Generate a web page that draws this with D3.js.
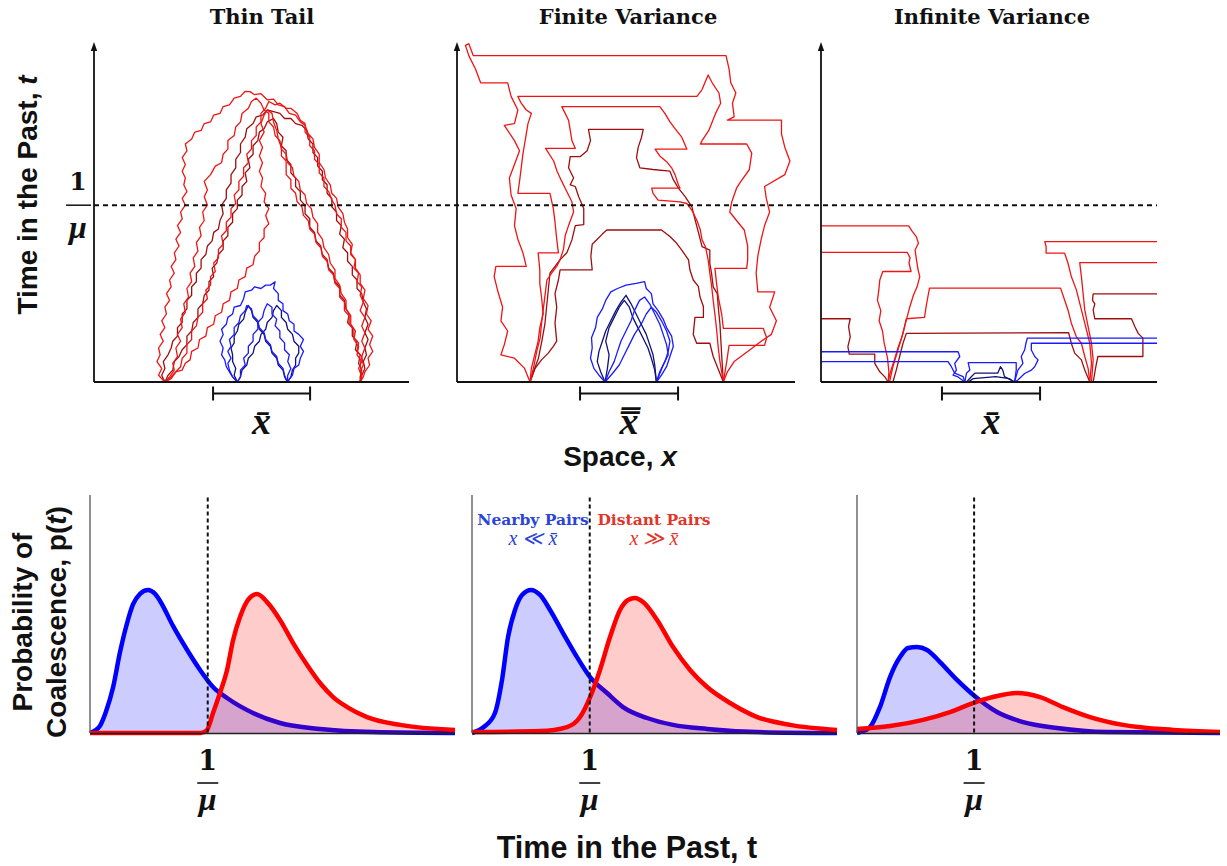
<!DOCTYPE html>
<html>
<head>
<meta charset="utf-8">
<script src="https://cdn.jsdelivr.net/npm/d3@7"></script>
<style>
  body { margin: 0; background: #fff; }
  svg { display: block; }
</style>
</head>
<body>
<svg id="fig" width="1227" height="866"></svg>
<script>
// ---------------------------------------------------------------
// Data
// ---------------------------------------------------------------
const panelTitles = ["Thin Tail", "Finite Variance", "Infinite Variance"];

// lineage time axis runs 0..100; the 1/mu level on that axis
const muLevel = 52;
// span of the typical separation x-bar on each space axis (0..100)
const xbarSpans = [[37.8, 68.6], [36.4, 65.4], [36.0, 65.2]];

// ---- Thin tail lineages: [space, time] ----
const thinDistant = [
  [[22.5,0],[20.5,2],[21.5,4],[20,6],[21,8],[20.5,10],[22,12],[21,14],[22.5,16],[21.5,18],[23,20],[22.5,22],[24,24],[23,26],[24.5,28],[24,30],[25.5,32],[24.5,34],[26,36],[25.5,38],[27,40],[26,42],[27.5,44],[26.5,46],[28,48],[27.5,50],[29,52],[28,54],[29.5,56],[28.5,58],[29,60],[28,62],[29,64],[28,66],[29.5,68],[29,70],[31,71.5],[32,73.5],[34,74],[35,76],[37,76.5],[38,78.5],[40,79],[41,81],[43,81.5],[44.5,83.5],[46.5,84],[48,85.5],[49.5,85.4],[51,84.5],[53,84.8],[55,83],[57,83.2],[58.5,81.5],[60.5,81],[62,79],[64,78.5],[65.5,76.5],[67,75.5],[68,73],[69.5,71.5],[70,69],[71.5,67],[71.5,64.5],[73,62.5],[73.5,60],[75,58],[75.5,55.5],[77,54],[77.5,51.5],[79,49.5],[79.5,47],[80.5,45],[80.5,42.5],[82,40.5],[81.5,38],[83,36],[83,33.5],[84.5,31.5],[84.5,29],[86,27],[85.5,24.5],[87,22.5],[86.5,20],[88,18],[87,15.5],[88.5,13.5],[87.5,11],[88.5,9],[87,7],[87.5,5],[86,3],[85.5,1.5],[84.5,0]],
  [[22.5,0],[24,1.5],[25.5,3.5],[25,5.5],[26.5,7.5],[26,10],[27.5,12],[26.5,14],[28,16],[27.5,18.5],[29,20.5],[28.5,23],[30,25],[29.5,27.5],[31,29.5],[30.5,32],[32,34],[31.5,36.5],[33,38.5],[32.5,41],[34,43],[33.5,45.5],[35,47.5],[34.5,50],[36,52],[35,54.5],[36,56.5],[35,59],[37,61],[38.5,63.5],[40.5,64.5],[41,67],[42.5,68.5],[42.5,71],[44.5,72.5],[45,75],[46.5,76.5],[47,79],[49,80.5],[50,82.5],[51.5,83.5],[53,82],[54,80],[55.5,79],[55.5,76.5],[57,75],[57.5,72.5],[59,71],[59.5,68.5],[61,67],[61.5,64.5],[63,63],[63.5,60.5],[65,59],[65.5,56.5],[67,55],[67.5,52.5],[69,51],[69.5,48.5],[71,46.5],[71,44],[72.5,42],[73,39.5],[74.5,37.5],[75,35],[76.5,33],[76.5,30.5],[78,28.5],[78.5,26],[80,24],[80,21.5],[81.5,19.5],[81.5,17],[83,15],[82.5,12.5],[84,10.5],[83.5,8],[85,6],[84,4],[85,2],[84.5,0]],
  [[22.5,0],[24.5,1.5],[26,3],[27.5,4.5],[28,7],[29.5,8.5],[29.5,11],[31,12.5],[31,15],[32.5,16.5],[33,19],[34.5,20.5],[34.5,23],[36,24.5],[35.5,27],[37,28.5],[37,31],[38.5,32.5],[38,35],[39.5,36.5],[39.5,39],[41,40.5],[40.5,43],[42,44.5],[42,47],[43.5,48.5],[43.5,51],[45,52.5],[44.5,55],[46,56.5],[46,59],[47.5,60.5],[47.5,63],[49,64.5],[48.5,67],[50,68.5],[50,71],[51.5,72.5],[51.5,75],[53,76.5],[53,79],[54.5,80.5],[55.5,82.5],[57.5,81.5],[59,82],[61,80.5],[62.5,80.5],[64.5,79],[65.5,77],[67,76],[67,73.5],[68.5,72],[68.5,69.5],[70,68],[70,65.5],[71.5,64],[71.5,61.5],[73,60],[73,57.5],[74.5,56],[75.5,53.5],[76.5,52],[77,49.5],[78.5,48],[78.5,45.5],[80,44],[80,41.5],[81.5,40],[81.5,37.5],[83,36],[82.5,33.5],[84,32],[83.5,29.5],[85,28],[84.5,25.5],[85.5,23.5],[84.5,21],[86,19],[85,16.5],[86,14.5],[85,12],[86,10],[85,7.5],[85.5,5],[84.5,3],[85,1.5],[84.5,0]],
  [[22.5,0],[24.5,1],[26,3],[28,3.5],[29,5.5],[30.5,6.5],[31,9],[33,10],[33.5,12.5],[35.5,13.5],[36,16],[38,17],[38.5,19.5],[40.5,20.5],[41,23],[43,24],[43.5,26.5],[45.5,27.5],[46,30],[48,31],[48.5,33.5],[50.5,34.5],[51,37],[52.5,38.5],[52.5,41],[54,42.5],[54,45],[55.5,46.5],[54.5,49],[55.5,51],[54,53],[54.5,55.5],[53,57.5],[53.5,60],[52.5,62],[53.5,64.5],[52.5,66.5],[53.5,69],[52.5,71],[54,73.5],[53,76],[54,78.5],[55,80],[56.5,79],[57,76.5],[58,74],[58.5,71.5],[59.5,69],[59.5,66.5],[61,65],[61,61],[62.5,59.5],[62.5,57],[64,55.5],[64.5,53],[66,51.5],[66.5,49],[68,47.5],[68.5,45],[70,43.5],[70.5,41],[72,39.5],[72.5,37],[74,35.5],[74.5,33],[76,31.5],[76.5,29],[78,27.5],[78,25],[79.5,23.5],[79.5,21],[81,19.5],[81,17],[82.5,15.5],[82.5,13],[84,11.5],[83.5,9],[85,7.5],[84.5,5],[85,2.5],[84.5,0]]
];
const thinDistantDark = [
  [[22.5,0],[21.5,2],[22.5,4],[22,6],[23.5,8],[24.5,10],[25,12],[26.5,13.5],[26.5,16],[28,17.5],[28,20],[29.5,21.5],[29.5,24],[31,25.5],[31,28],[32.5,29.5],[32.5,32],[34,33.5],[34,36],[35.5,37.5],[36,40],[37.5,41.5],[38,44],[39.5,45],[40,47.5],[41,49.5],[40.5,52],[42,54],[42,56.5],[43.5,58.5],[43.5,61],[45,63],[45,65.5],[46.5,67.5],[46.5,70],[48,72],[48.5,74.5],[50.5,76],[51.5,78],[53.5,78.5],[55,80],[57,79.5],[59,79],[60.5,77.5],[62.5,77.5],[64,76],[66,75.5],[67.5,74],[68,71.5],[69.5,70],[69.5,67.5],[71,66],[71,63.5],[72.5,62],[72.5,59.5],[74,58],[74,55.5],[75.5,54],[75.5,51.5],[77,50],[77,47.5],[78.5,46],[78,43.5],[79.5,42],[79,39.5],[80.5,38],[80.5,35.5],[82,34],[82,31.5],[83.5,30],[83.5,27.5],[85,26],[85.5,23.5],[86.5,21.5],[86,19],[87,17],[86,14.5],[87,12.5],[86,10],[86.5,8],[85.5,6],[86,4],[85,2],[84.5,0]],
  [[22.5,0],[23.5,2],[25,3.5],[25.5,6],[27,7.5],[28,9.5],[29.5,11],[29.5,13.5],[31,15],[31.5,17.5],[33,19],[33,21.5],[34.5,23],[35,25.5],[36.5,27],[36.5,29.5],[38,31],[37.5,33.5],[39,35],[39.5,37.5],[41,39],[41,41.5],[42.5,43],[42.5,45.5],[44,47],[44,49.5],[45.5,51],[45.5,53.5],[47,55],[47,57.5],[48.5,59],[48,61.5],[49.5,63],[49,65.5],[50.5,67],[50.5,69.5],[52,71],[52.5,73.5],[54,74.5],[55,76.5],[57,77.5],[58,76],[58.5,73.5],[60,72],[59.5,69.5],[61,68],[61,65.5],[62.5,64],[62.5,61.5],[64,60],[64,57.5],[65.5,56],[65.5,53.5],[67,52],[67,49.5],[68.5,48],[68.5,45.5],[70,44],[70.5,41.5],[72,40],[72.5,37.5],[74,36],[74.5,33.5],[76,32],[76.5,29.5],[78,28],[78,25.5],[79.5,24],[80,21.5],[81,20],[80.5,17.5],[82,16],[82,13.5],[83.5,12],[83,9.5],[84.5,8],[84,5.5],[85,3.5],[84.5,1.5],[84.5,0]]
];
const thinNearby = [
  [[45.5,0],[44,1.5],[43,3],[42,4.5],[41.5,6.5],[40.5,8],[41,10],[40,12],[41,14],[40.5,15.5],[42,17],[42.5,19],[44,20],[44.5,22],[46.5,22.5],[47.5,24.5],[48,26.5],[50,27],[51,28],[53,27.5],[54.5,28.5],[56,28.5],[57.5,29.5],[57,27.5],[58.5,26],[58.5,24],[60,23],[60,21],[61.5,20],[62,18],[63.5,17],[63.5,15],[65,14],[66.5,12.5],[65.5,10.5],[66.5,9],[65.5,7],[65,5],[63.5,4],[63,2],[61.4,0]],
  [[45.5,0],[46.5,1.5],[46.5,3.5],[48,5],[47.5,7],[49,8.5],[49,10.5],[50.5,12],[50.5,14],[52,15.5],[52,17.5],[53.5,19],[54,21],[55,23],[56.5,22],[56.5,20],[58,18.5],[57.5,16.5],[59,15],[59,13],[60.5,11.5],[60.5,9.5],[62,8],[61.5,6],[62.5,4],[61.5,2],[61.4,0]],
  [[45.5,0],[44,1.5],[43,3.5],[42.5,5.5],[43.5,7],[42.5,9],[43.5,10.5],[43,12.5],[44.5,14],[44.5,16],[46,17.5],[46.5,19.5],[48,21],[48.5,22.5],[50,21.5],[50.5,19.5],[52,18],[52.5,16],[54,14.5],[54.5,12.5],[56,11],[56.5,9],[58,7.5],[58.5,5.5],[60,4],[60.5,2],[61.4,0]]
];
const thinNearbyDark = [
  [[45.5,0],[44.5,2],[45,4],[44,6],[44,8],[43.5,10],[44.5,11.5],[44.5,13.5],[45.5,15],[46,17],[47.5,18.5],[48,20.5],[49,22.5],[50,21],[50.5,19],[52,17.5],[52.5,15.5],[54,14],[54.5,12],[56,10.5],[56.5,8.5],[58,7],[58.5,5],[60,3.5],[60.5,1.5],[61.4,0]],
  [[45.5,0],[46.5,1.5],[47,3.5],[48.5,5],[49,7],[50.5,8.5],[51,10.5],[52.5,12],[53,14],[54.5,15.5],[55,17.5],[56.5,19],[57,21],[58,22.5],[59.5,21],[59.5,19],[61,17.5],[61.5,15.5],[63,14],[63.5,12],[65,10.5],[65,8.5],[64,7],[64,5],[63,3.5],[62.5,1.5],[61.4,0]]
];

// ---- Finite variance lineages ----
const finiteDistant = [
  [[21.6,0],[20,4],[17,7],[13,8],[14,11],[15,15],[13,18],[13.5,22],[12,27],[11,31],[11.5,34],[20.5,34],[19.5,38],[18,42],[17,46],[17.5,51],[16,55],[15.5,60],[17,64],[18.5,68],[17,71],[14,75.5],[17,76],[18,80],[16,84],[15,88],[7,88],[5.5,92],[3.5,96],[2.5,99],[3.5,99.5],[4.8,96],[79.6,96],[80.5,92],[81,88],[82.5,85],[81.5,82],[82,78],[80,77],[96,77],[96,73],[97,69],[98.5,65],[97,61],[91,57.5],[91.5,54],[92.5,50],[91,46],[90,42],[89,37],[88.5,32],[89,26.5],[94,26.5],[92.5,22],[94.5,18],[93,14],[90,12],[86,9],[82,6],[80,3],[78.8,0]],
  [[21.6,0],[22,4],[23,8],[24,12],[24.5,16],[25.5,20],[25,25],[24.5,29],[24.5,33],[24,38],[30,38],[29.5,42],[29,47],[28.5,51],[27.5,55.5],[18,55.5],[18.5,59],[19,63],[19.5,67],[20,70],[20.5,73],[21,76],[22,79],[20.5,80],[19,82],[18,84],[71,84],[72.5,86],[74.3,90.3],[75.5,88],[77.5,85],[78,82],[76.5,79],[74.5,74],[72.5,71],[72,70],[85.7,70],[87.2,67.3],[86.5,62.5],[84,59],[82.7,57],[81.3,53],[80.7,50],[82.7,47.5],[85,44.7],[86,40],[86,36],[85.7,33.4],[76.3,33.4],[76.8,29],[77.3,25],[78.3,20],[78.8,15.8],[90.6,15.8],[91.6,13],[91,10.8],[80.5,10.8],[79.8,6],[78.8,0]],
  [[21.6,0],[22.6,4],[23.6,9],[24.6,13],[25.1,18],[25.6,22],[26.1,26],[26.6,30],[28,32],[29.5,34],[30.5,36],[31.5,39],[32,43],[33,46],[34.5,50],[34,53],[33,55],[32,57],[31,59],[29.6,62],[28.6,65],[26.2,68.7],[35,68.7],[34,71],[33.5,74],[33,77],[32,79],[31,81],[60,81],[61.5,79],[63,76.5],[64.5,74.5],[66.5,72],[68,68.5],[58.6,68.5],[60,66.5],[62,64.8],[63.5,63],[64.5,61],[65.5,58],[66,57],[57.6,57],[58,55.5],[59.5,53.5],[66,53],[68,52.5],[69.5,50.5],[71,47.5],[72,44.7],[72.5,41.8],[73.5,39.8],[74.3,36],[74.8,32],[75.3,28.5],[75.8,24],[76.3,20],[76.8,15.5],[77.3,10],[77.8,6],[78.8,0]]
];
const finiteDistantDark = [
  [[21.6,0],[22.6,3],[24.1,7],[25.1,12],[26,17],[26.5,22],[27,27],[27.5,32],[29,34],[30.5,36],[32.5,38],[34,41.8],[35,46],[37.5,46.3],[37.5,51],[36,54.5],[35,57.5],[33.5,58],[34.5,60],[33,63],[33.5,66.3],[36.5,66.3],[38.5,68],[39.5,71],[38.9,74.3],[55.1,74.3],[54.6,72],[53.6,69],[53.1,66],[54.1,63],[58,62.5],[63,62],[64,59.5],[65.5,57],[67.5,54.5],[69.5,51.5],[70.5,47.5],[71.5,43.7],[72.5,39.8],[74.8,38.8],[74.8,34.9],[75.3,32],[75.8,28],[77,26],[77.3,22],[77.8,17],[78.3,8],[78.8,0]],
  [[21.6,0],[23.1,4],[25,6.5],[27,8.5],[28.5,10.5],[29.5,12],[29,17.3],[29.5,22],[29,26],[30,30],[30.5,33],[40,33],[39.6,37],[40,40.5],[41.5,42],[43,43.5],[44.3,44.7],[60.5,44.7],[63,42.8],[65,40.8],[66.5,38.8],[68.5,35.9],[68.9,33],[69.9,30],[71.4,28.1],[71.9,25],[72.9,22.2],[72.9,19],[70.4,19],[69.9,14],[70.9,11.4],[74.8,11.4],[75.8,7.5],[77.8,2.5],[78.8,0]]
];
const finiteNearby = [
  [[43.8,0],[42,2],[40.5,4],[39.5,7],[40,10],[39.8,13],[41,16],[41.5,19],[43,21.5],[44,24],[45.5,26.5],[47.5,27.5],[50,28.5],[53,29],[55.5,29.5],[56,27.5],[57.5,26],[58,23],[59.5,21],[61,18.5],[62,16],[63.5,13.5],[64,10.5],[63,7.5],[62,4.5],[60.5,2],[59,0]],
  [[43.8,0],[45,3],[46.5,6],[47.5,9],[48.5,12],[50,15],[51.5,18],[52.5,21],[54,24],[55.5,25],[57,23],[58.5,20],[60,17],[61,14],[62,11],[62.5,8],[61,5],[60,2.5],[59,0]],
  [[43.8,0],[46,2.5],[48,5],[49.5,8],[51,11],[52.5,14],[54.5,17],[56,20],[57.5,22],[59,20.5],[60.5,18],[62,15],[63,12],[62.5,9],[61.5,6],[60,3],[59,0]]
];
const finiteNearbyDark = [
  [[43.8,0],[42.5,3],[41.5,6],[42,9],[43,12],[44,15],[45.5,18],[47,21],[48.5,23.5],[50,25.5],[51.5,23],[53,20],[54.5,17],[56,14],[57,11],[58,8],[58.5,5],[59,0]],
  [[43.8,0],[44.5,4],[45,8],[44,12],[45,16],[46.5,19],[48,22],[49.5,24],[51,22],[52,19],[53.5,16],[55,13],[56.5,10],[57.5,7],[58.5,3.5],[59,0]]
];

// ---- Infinite variance lineages ----
const infiniteDistant = [
  [[0,45.9],[26.1,45.9],[27,44.5],[28.4,42.7],[29,40.8],[28,38.8],[28.4,36],[28.9,33],[29.4,31],[28.6,28],[27.5,25.5],[26.4,22],[25.6,19],[24.8,16],[24,13],[22.9,10],[22,7],[21,4],[20.4,2],[20,0]],
  [[0,38.1],[25.7,38.1],[26.5,36.5],[26.2,35],[26.8,32.5],[18.4,32.5],[17.5,30],[17.2,27],[16.8,24],[17.8,21],[17.3,18],[18.3,15],[18.8,11.5],[19.8,7],[20.2,3],[20,0]],
  [[20.4,0],[21.4,4.5],[22.9,9.5],[24.4,14.3],[25.4,18.6],[30.8,19],[31.3,22.2],[31.8,25],[32.3,27.6],[71.3,27.6],[72.5,24.1],[73.5,21.2],[74.5,17.3],[76,13.3],[77.5,11.4],[78.5,7.5],[79.5,4],[80,0]],
  [[100,41.3],[66.6,41.3],[67,39.8],[67,37.9],[72.5,37.9],[73.5,35],[74.5,31],[76,27.1],[77.5,21.2],[78.5,17.3],[80,11.4],[80.5,5.5],[80,0]],
  [[100,35.1],[77,35.1],[77.5,31],[78,26.1],[78.5,21.2],[79.5,16.3],[80.5,11.4],[81,6.5],[80.5,0]]
];
const infiniteDistantDark = [
  [[0,18.6],[8.7,18.6],[8.2,16.3],[8.7,13.3],[8,10.4],[8.4,8.2],[16,8.2],[16,5.5],[17.5,3],[19,1.5],[20,0]],
  [[21.4,0],[22.4,3.5],[23.4,7.5],[24.4,11.4],[25.4,14.3],[73.7,14.5],[74.5,11.4],[75.5,8.5],[77.5,6.5],[78.5,3.5],[80,0]],
  [[100,25.9],[81,25.9],[80.8,24.1],[81.5,23],[81,21.2],[81.5,18.6],[92.4,18.6],[93.4,16.3],[94.4,14.3],[95.8,12.9],[95.8,7.5],[82.4,7.5],[81.8,4.5],[81,0]]
];
const infiniteNearby = [
  [[0,8.9],[40.8,8.9],[41.3,7.5],[39.8,5.5],[40.3,3.5],[39.3,2],[40.8,1.5],[42.8,0]],
  [[0,6],[37.8,6],[38.8,4.5],[39.8,2.6],[42.3,1.6],[42.8,0]],
  [[100,12.9],[61.4,12.9],[61,11.4],[60.6,9.4],[59.6,7.5],[60.1,5.5],[58.6,3.5],[57.6,0]],
  [[100,11.4],[62.6,11.4],[62.6,9.4],[63.6,7.5],[64.6,6.5],[63.6,4.5],[62.6,3.5],[60.6,2.5],[58.6,0.6],[57.6,0]],
  [[42.8,0],[43.3,2.6],[44.3,3.5],[43.8,5.7],[58.1,5.7],[58.1,3.5],[57.6,0]]
];
const infiniteNearbyDark = [
  [[43.3,0],[44.8,1.6],[45.8,2.6],[52.6,2.6],[53.4,4.5],[54.1,3.5],[54.6,1.6],[57.6,0]],
  [[43.8,0],[45.3,1],[52,1.6],[56,1],[57.6,0]]
];

// ---- Coalescence time densities: [t in units of 1/mu, p(t)] ----
const nearbyThin = [[0,0],[0.042,0.01],[0.085,0.03],[0.136,0.09],[0.195,0.19],[0.255,0.34],[0.314,0.46],[0.365,0.54],[0.425,0.585],[0.493,0.601],[0.552,0.585],[0.595,0.555],[0.705,0.45],[0.824,0.35],[0.935,0.265],[1.045,0.193],[1.164,0.147],[1.385,0.084],[1.614,0.042],[1.954,0.017],[2.404,0.004],[3.1,0]];
const distantThin = [[0,0],[0.5,0],[0.94,0],[0.99,0.01],[1.045,0.084],[1.105,0.17],[1.164,0.265],[1.215,0.39],[1.274,0.487],[1.342,0.559],[1.419,0.584],[1.504,0.55],[1.614,0.475],[1.725,0.378],[1.844,0.286],[1.954,0.21],[2.065,0.151],[2.184,0.109],[2.353,0.067],[2.634,0.034],[3.1,0.013]];
const nearbyFinite = [[0,0],[0.1,0.025],[0.195,0.084],[0.255,0.223],[0.306,0.403],[0.365,0.517],[0.425,0.58],[0.501,0.601],[0.578,0.58],[0.663,0.517],[0.773,0.42],[0.892,0.319],[1.003,0.235],[1.147,0.168],[1.283,0.109],[1.487,0.063],[1.708,0.034],[1.997,0.017],[2.422,0.004],[3.1,0]];
const distantFinite = [[0,0.004],[0.578,0.008],[0.807,0.025],[0.918,0.067],[1.003,0.151],[1.087,0.265],[1.172,0.403],[1.257,0.517],[1.325,0.559],[1.385,0.567],[1.453,0.55],[1.572,0.475],[1.708,0.361],[1.852,0.265],[1.997,0.193],[2.192,0.126],[2.422,0.067],[2.702,0.034],[3.1,0.013]];
const nearbyInfinite = [[0,0],[0.026,0.004],[0.111,0.025],[0.196,0.109],[0.282,0.235],[0.367,0.319],[0.436,0.357],[0.512,0.361],[0.598,0.349],[0.709,0.298],[0.854,0.223],[1.025,0.147],[1.196,0.088],[1.418,0.046],[1.708,0.021],[2.135,0.004],[3.1,0]];
const distantInfinite = [[0,0.017],[0.282,0.029],[0.564,0.055],[0.794,0.088],[0.991,0.126],[1.161,0.151],[1.366,0.168],[1.563,0.151],[1.759,0.109],[1.99,0.067],[2.272,0.034],[2.699,0.013],[3.1,0.004]];

const muTick = 1; // 1/mu on the density time axis

// ---------------------------------------------------------------
// Layout and styles
// ---------------------------------------------------------------
const svg = d3.select("#fig");
const SANS = "'Liberation Sans', Arial, Helvetica, sans-serif";
const SERIF = "'DejaVu Serif', 'Liberation Serif', serif";
const MATH = "'Liberation Serif', 'DejaVu Serif', serif";

const topPanels = [
  {x0: 94,  x1: 409,  titleX: 262, title: panelTitles[0],
   groups: [thinDistant, thinDistantDark, thinNearby, thinNearbyDark]},
  {x0: 457, x1: 795,  titleX: 628, title: panelTitles[1],
   groups: [finiteDistant, finiteDistantDark, finiteNearby, finiteNearbyDark]},
  {x0: 821, x1: 1157, titleX: 992, title: panelTitles[2],
   groups: [infiniteDistant, infiniteDistantDark, infiniteNearby, infiniteNearbyDark]}
];
const lineageColors = ["#f01414", "#9e0e0e", "#1a1aff", "#10107a"];
const topY = d3.scaleLinear().domain([0, 100]).range([382, 42]);

const lineageLine = (xs) => d3.line().x(d => xs(d[0])).y(d => topY(d[1])).curve(d3.curveLinear);

topPanels.forEach((p, i) => {
  const xs = d3.scaleLinear().domain([0, 100]).range([p.x0, p.x1]);
  const g = svg.append("g");

  // lineages: dark distant first, then bright distant, then nearby
  [1, 0, 3, 2].forEach(k => {
    g.selectAll(null).data(p.groups[k]).enter().append("path")
      .attr("d", lineageLine(xs))
      .attr("fill", "none")
      .attr("stroke", lineageColors[k])
      .attr("stroke-width", 1.3)
      .attr("stroke-linejoin", "round");
  });

  // axes
  g.append("line").attr("x1", p.x0).attr("x2", p.x1)
    .attr("y1", topY(0)).attr("y2", topY(0))
    .attr("stroke", "#111").attr("stroke-width", 1.8);
  g.append("line").attr("x1", p.x0).attr("x2", p.x0)
    .attr("y1", topY(0)).attr("y2", topY(100) + 4)
    .attr("stroke", "#111").attr("stroke-width", 1.8);
  g.append("path")
    .attr("d", `M${p.x0 - 3.2},${topY(100) + 9} L${p.x0},${topY(100)} L${p.x0 + 3.2},${topY(100) + 9} Z`)
    .attr("fill", "#111");

  // title
  svg.append("text").attr("x", p.titleX).attr("y", 24)
    .attr("text-anchor", "middle")
    .attr("font-family", SERIF).attr("font-weight", "bold").attr("font-size", 21)
    .attr("fill", "#111").text(p.title);

  // x-bar bracket
  const [b0, b1] = xbarSpans[i];
  const by = 393.5;
  g.append("line").attr("x1", xs(b0)).attr("x2", xs(b1)).attr("y1", by).attr("y2", by)
    .attr("stroke", "#111").attr("stroke-width", 2);
  [b0, b1].forEach(b => g.append("line").attr("x1", xs(b)).attr("x2", xs(b))
    .attr("y1", by - 7).attr("y2", by + 7).attr("stroke", "#111").attr("stroke-width", 2));
  const cx = (xs(b0) + xs(b1)) / 2;
  svg.append("text").attr("x", cx).attr("y", 434)
    .attr("text-anchor", "middle")
    .attr("font-family", MATH).attr("font-style", "italic").attr("font-weight", "bold")
    .attr("font-size", 38).attr("fill", "#111")
    .text(i === 1 ? "x\u033F" : "x\u0304");
});

// 1/mu level across the top panels
svg.append("line")
  .attr("x1", topPanels[0].x0).attr("x2", topPanels[2].x1)
  .attr("y1", topY(muLevel)).attr("y2", topY(muLevel))
  .attr("stroke", "#111").attr("stroke-width", 2).attr("stroke-dasharray", "5,4");
// fraction label 1/mu on the time axis
svg.append("line").attr("x1", 66).attr("x2", 91).attr("y1", topY(muLevel)).attr("y2", topY(muLevel))
  .attr("stroke", "#111").attr("stroke-width", 1.5);
svg.append("text").attr("x", 78).attr("y", 190).attr("text-anchor", "middle")
  .attr("font-family", SERIF).attr("font-weight", "bold").attr("font-size", 25).attr("fill", "#111").text("1");
svg.append("text").attr("x", 78).attr("y", 238).attr("text-anchor", "middle")
  .attr("font-family", MATH).attr("font-weight", "bold").attr("font-style", "italic")
  .attr("font-size", 32).attr("fill", "#111").text("\u03BC");

// y label of the lineage panels
const ylab = svg.append("text")
  .attr("transform", "translate(37,195) rotate(-90)")
  .attr("text-anchor", "middle")
  .attr("font-family", SANS).attr("font-weight", "bold").attr("font-size", 28).attr("fill", "#111");
ylab.append("tspan").text("Time in the Past, ");
ylab.append("tspan").attr("font-style", "italic").text("t");

// x label of the lineage panels
const xlab = svg.append("text").attr("x", 620).attr("y", 466).attr("text-anchor", "middle")
  .attr("font-family", SANS).attr("font-weight", "bold").attr("font-size", 28).attr("fill", "#111");
xlab.append("tspan").text("Space, ");
xlab.append("tspan").attr("font-style", "italic").text("x");

// ---------------------------------------------------------------
// Density panels
// ---------------------------------------------------------------
const botPanels = [
  {x0: 90,  x1: 455,  nearby: nearbyThin,     distant: distantThin},
  {x0: 472, x1: 837,  nearby: nearbyFinite,   distant: distantFinite},
  {x0: 857, x1: 1220, nearby: nearbyInfinite, distant: distantInfinite}
];
const botY = d3.scaleLinear().domain([0, 1]).range([733, 495]);

botPanels.forEach((p, i) => {
  const xs = d3.scaleLinear().domain([0, 3.1]).range([p.x0, p.x1]);
  const g = svg.append("g");
  const area = d3.area().x(d => xs(d[0])).y0(botY(0)).y1(d => botY(d[1])).curve(d3.curveMonotoneX);
  const line = d3.line().x(d => xs(d[0])).y(d => botY(d[1])).curve(d3.curveMonotoneX);

  g.append("path").attr("d", area(p.nearby)).attr("fill", "rgba(0,0,255,0.2)");
  g.append("path").attr("d", line(p.nearby)).attr("fill", "none")
    .attr("stroke", "#0000ff").attr("stroke-width", 4.5).attr("stroke-linejoin", "round");
  g.append("path").attr("d", area(p.distant)).attr("fill", "rgba(255,0,0,0.2)");
  g.append("path").attr("d", line(p.distant)).attr("fill", "none")
    .attr("stroke", "#ff0000").attr("stroke-width", 4.5).attr("stroke-linejoin", "round");

  // axes
  g.append("line").attr("x1", p.x0).attr("x2", p.x1).attr("y1", botY(0) + 0.5).attr("y2", botY(0) + 0.5)
    .attr("stroke", "#222").attr("stroke-width", 1.3);
  g.append("line").attr("x1", p.x0).attr("x2", p.x0).attr("y1", botY(0)).attr("y2", botY(1))
    .attr("stroke", "#555").attr("stroke-width", 1.3);

  // 1/mu marker
  const mx = xs(muTick);
  g.append("line").attr("x1", mx).attr("x2", mx).attr("y1", botY(0.99)).attr("y2", botY(0))
    .attr("stroke", "#111").attr("stroke-width", 2).attr("stroke-dasharray", "4,3");
  g.append("text").attr("x", mx).attr("y", 770).attr("text-anchor", "middle")
    .attr("font-family", SERIF).attr("font-weight", "bold").attr("font-size", 27).attr("fill", "#111").text("1");
  g.append("line").attr("x1", mx - 10.5).attr("x2", mx + 10.5).attr("y1", 783).attr("y2", 783)
    .attr("stroke", "#111").attr("stroke-width", 1.6);
  g.append("text").attr("x", mx).attr("y", 810).attr("text-anchor", "middle")
    .attr("font-family", MATH).attr("font-weight", "bold").attr("font-style", "italic")
    .attr("font-size", 32).attr("fill", "#111").text("\u03BC");
});

// legend in the middle density panel
const legend = [
  {label: "Nearby Pairs", rel: "x \u226A x\u0304", x: 533, color: "#2a44d8"},
  {label: "Distant Pairs", rel: "x \u226B x\u0304", x: 654, color: "#e2352a"}
];
legend.forEach(l => {
  svg.append("text").attr("x", l.x).attr("y", 525).attr("text-anchor", "middle")
    .attr("font-family", SERIF).attr("font-weight", "bold").attr("font-size", 15.5)
    .attr("fill", l.color).text(l.label);
  svg.append("text").attr("x", l.x).attr("y", 545).attr("text-anchor", "middle")
    .attr("font-family", MATH).attr("font-style", "italic").attr("font-size", 20)
    .attr("fill", l.color).text(l.rel);
});

// y label of the density panels
[["Probability of", 22], ["Coalescence, p(t)", 56]].forEach(([txt, x], k) => {
  const t = svg.append("text")
    .attr("transform", `translate(${x + 10},622) rotate(-90)`)
    .attr("text-anchor", "middle")
    .attr("font-family", SANS).attr("font-weight", "bold").attr("font-size", 28).attr("fill", "#111");
  if (k === 0) t.text(txt);
  else {
    t.append("tspan").text("Coalescence, p(");
    t.append("tspan").attr("font-style", "italic").text("t");
    t.append("tspan").text(")");
  }
});

// x label of the density panels
svg.append("text").attr("x", 627).attr("y", 858).attr("text-anchor", "middle")
  .attr("font-family", SANS).attr("font-weight", "bold").attr("font-size", 30.5).attr("fill", "#111")
  .text("Time in the Past, t");
</script>
</body>
</html>
